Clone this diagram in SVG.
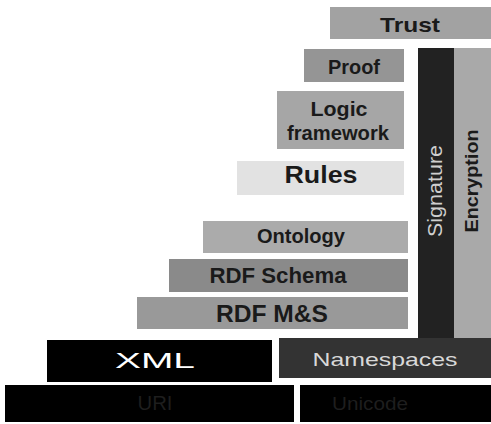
<svg xmlns="http://www.w3.org/2000/svg" width="491" height="424" viewBox="0 0 491 424">
<style>
.b{font-family:"Liberation Sans",Arial,sans-serif;font-weight:bold;fill:#1a1a1a;text-anchor:middle}
.n{font-family:"Liberation Sans",Arial,sans-serif;text-anchor:middle}
</style>
<rect width="491" height="424" fill="#fff"/>
<g id="trust"><rect x="330" y="7" width="161" height="32" fill="#a2a2a2"/><text class="b" x="410" y="32" font-size="21" textLength="60" lengthAdjust="spacingAndGlyphs">Trust</text></g>
<g id="proof"><rect x="304" y="49" width="100" height="33" fill="#959595"/><text class="b" x="354" y="74" font-size="21" textLength="52" lengthAdjust="spacingAndGlyphs">Proof</text></g>
<g id="logic"><rect x="277" y="91" width="127" height="58" fill="#a6a6a6"/><text class="b" x="339" y="116" font-size="21" textLength="57" lengthAdjust="spacingAndGlyphs">Logic</text><text class="b" x="338" y="140" font-size="20" textLength="102" lengthAdjust="spacingAndGlyphs">framework</text></g>
<g id="rules"><rect x="237" y="161" width="167" height="34" fill="#e2e2e2"/><text class="b" x="321" y="183" font-size="24" textLength="73" lengthAdjust="spacingAndGlyphs">Rules</text></g>
<g id="signature"><rect x="418" y="48" width="36" height="290" fill="#222"/><text class="n" transform="translate(442 191) rotate(-90)" font-size="20" fill="#cfcfcf" textLength="92" lengthAdjust="spacingAndGlyphs">Signature</text></g>
<g id="encryption"><rect x="454" y="48" width="37" height="290" fill="#a9a9a9"/><text class="b" transform="translate(478 181) rotate(-90)" font-size="18" textLength="103" lengthAdjust="spacingAndGlyphs">Encryption</text></g>
<g id="ontology"><rect x="203" y="221" width="205" height="32" fill="#ababab"/><text class="b" x="301" y="243" font-size="20" textLength="88" lengthAdjust="spacingAndGlyphs">Ontology</text></g>
<g id="rdfschema"><rect x="169" y="259" width="239" height="33" fill="#8a8a8a"/><text class="b" x="278" y="283" font-size="22" textLength="137" lengthAdjust="spacingAndGlyphs">RDF Schema</text></g>
<g id="rdfms"><rect x="137" y="297" width="271" height="32" fill="#999"/><text class="b" x="272" y="322" font-size="24" textLength="112" lengthAdjust="spacingAndGlyphs">RDF M&amp;S</text></g>
<g id="xml"><rect x="47" y="340" width="225" height="42" fill="#000"/><text class="n" x="155" y="368" font-size="22" fill="#fff" textLength="80" lengthAdjust="spacingAndGlyphs">XML</text></g>
<g id="namespaces"><rect x="279" y="338" width="212" height="40" fill="#333"/><text class="n" x="385" y="366" font-size="19" fill="#d8d8d8" textLength="145" lengthAdjust="spacingAndGlyphs">Namespaces</text></g>
<g id="uri"><rect x="5" y="385" width="289" height="37" fill="#000"/><text class="n" x="155" y="410" font-size="20" fill="#1e1e1e" textLength="35" lengthAdjust="spacingAndGlyphs">URI</text></g>
<g id="unicode"><rect x="300" y="385" width="191" height="37" fill="#000"/><text class="n" x="370" y="410" font-size="19" fill="#1e1e1e" textLength="76" lengthAdjust="spacingAndGlyphs">Unicode</text></g>
<g id="connectors"></g>
</svg>
